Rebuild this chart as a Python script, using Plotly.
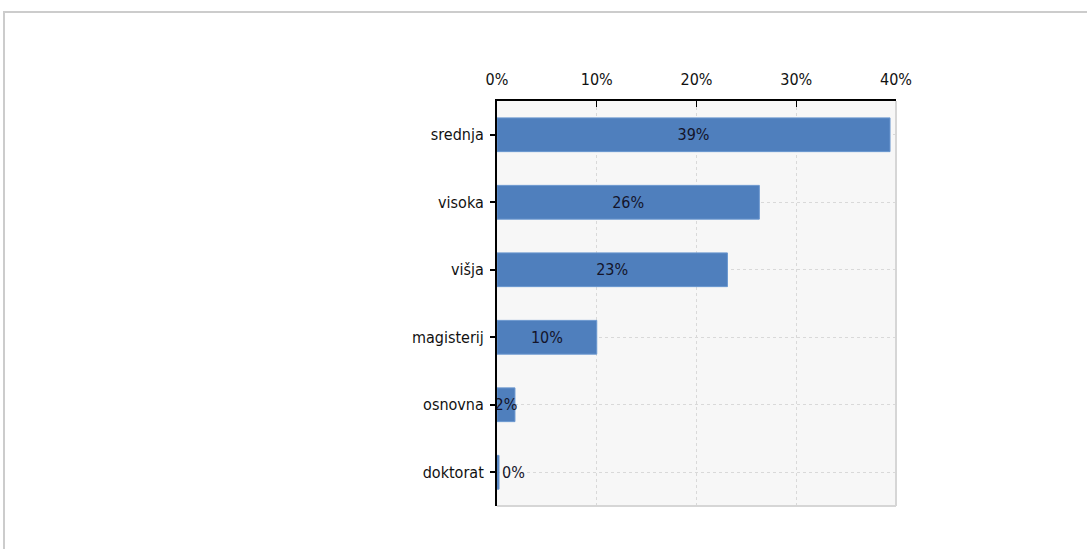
import plotly.graph_objects as go

# Education level shares (percent)
categories = ["srednja", "visoka", "višja", "magisterij", "osnovna", "doktorat"]
shares = [39.4, 26.3, 23.1, 10.0, 1.8, 0.2]
x_ticks = [0, 10, 20, 30, 40]
x_tick_labels = ["0%", "10%", "20%", "30%", "40%"]

W, H = 1087, 549
L, R, T, B = 497, 191, 101, 43
pw, ph = W - L - R, H - T - B

FONT = "DejaVu Sans Condensed, Liberation Sans Narrow, sans-serif"

# very small bars get their label outside the bar end
positions = ["inside" if v >= 1 else "outside" for v in shares]

fig = go.Figure(
    go.Bar(
        x=shares,
        y=categories,
        orientation="h",
        width=0.5,
        marker=dict(color="#4f7fbd", line=dict(color="#6a97cf", width=1)),
        text=[f"{v:.0f}%" for v in shares],
        textposition=positions,
        textangle=0,
        insidetextanchor="middle",
        constraintext="none",
        cliponaxis=False,
        textfont=dict(family=FONT, size=16, color="#14142a"),
    )
)

fig.update_layout(
    width=W,
    height=H,
    margin=dict(l=L, r=R, t=T, b=B, pad=0),
    paper_bgcolor="white",
    plot_bgcolor="#f7f7f7",
    showlegend=False,
    font=dict(family=FONT, size=16, color="#111111"),
    xaxis=dict(
        side="top",
        range=[0, 40],
        tickvals=x_ticks,
        ticktext=x_tick_labels,
        ticks="inside",
        ticklen=6,
        tickcolor="#000000",
        ticklabelstandoff=8,
        showline=True,
        linecolor="#000000",
        linewidth=2,
        mirror=False,
        showgrid=True,
        gridcolor="#d9d9d9",
        griddash="dot",
        gridwidth=1,
        zeroline=False,
        fixedrange=True,
    ),
    yaxis=dict(
        categoryorder="array",
        categoryarray=categories[::-1],
        ticks="outside",
        ticklen=5,
        tickcolor="#000000",
        tickwidth=2,
        ticklabelstandoff=3,
        showline=True,
        linecolor="#000000",
        linewidth=2,
        showgrid=True,
        gridcolor="#d9d9d9",
        griddash="dot",
        gridwidth=1,
        zeroline=False,
        fixedrange=True,
    ),
)

# light right/bottom frame of the plotting area
fig.add_shape(type="line", xref="paper", yref="paper", x0=1, x1=1, y0=0, y1=1,
              line=dict(color="#d6d6d6", width=2))
fig.add_shape(type="line", xref="paper", yref="paper", x0=0, x1=1, y0=0, y1=0,
              line=dict(color="#d6d6d6", width=2))

# outer panel border (top and left edges visible)
fig.add_shape(
    type="rect", xref="paper", yref="paper",
    x0=(4 - L) / pw, x1=(W + 20 - L) / pw,
    y0=(T + ph - (H + 20)) / ph, y1=(T + ph - 12) / ph,
    line=dict(color="#cccccc", width=2), layer="below",
)

fig.write_html("out.html")
